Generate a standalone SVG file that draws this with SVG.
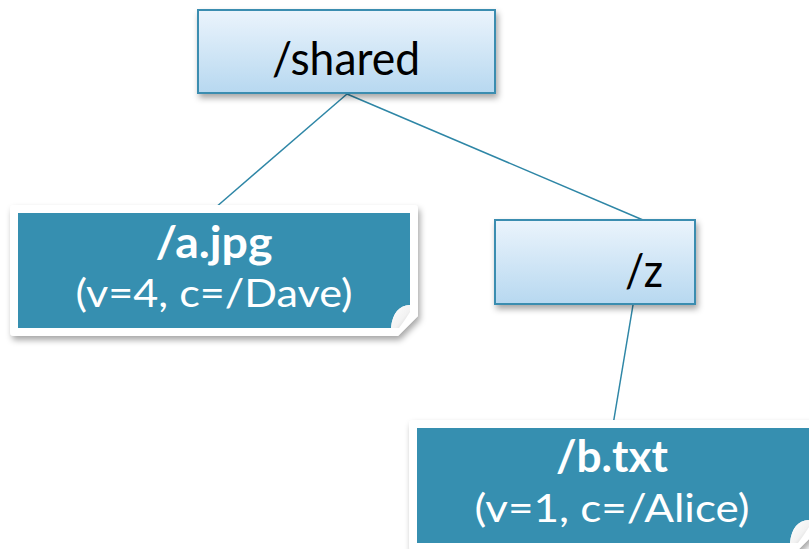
<svg xmlns="http://www.w3.org/2000/svg" width="809" height="549" viewBox="0 0 809 549">
  <style>
    .dir rect { fill: url(#dirFill); stroke: #3b8db0; stroke-width: 2; }
    .dir text { font-family: Lato, "Open Sans", sans-serif; font-size: 46px; fill: #000; text-anchor: middle; }
    .frame { fill: #fff; }
    .leaf { fill: #368fb0; }
    .curl { fill: url(#curlFill); }
    .name { font-family: Lato, "Open Sans", sans-serif; font-weight: bold; font-size: 43px; fill: #fff; text-anchor: middle; }
    .meta { font-family: Lato, "Open Sans", sans-serif; font-size: 39px; fill: #fff; text-anchor: middle; }
    .edges line { stroke: #2e86a6; stroke-width: 1.5; }
  </style>
  <defs>
    <linearGradient id="dirFill" x1="0" y1="0" x2="0" y2="1">
      <stop offset="0" stop-color="#ebf4fc"/>
      <stop offset="1" stop-color="#b7d8f0"/>
    </linearGradient>
    <linearGradient id="curlFill" x1="0" y1="0" x2="1" y2="1">
      <stop offset="0" stop-color="#ffffff"/>
      <stop offset="0.6" stop-color="#f2f2f2"/>
      <stop offset="1" stop-color="#c8c8c8"/>
    </linearGradient>
    <filter id="shadow" x="-10%" y="-10%" width="125%" height="140%">
      <feDropShadow dx="2" dy="4" stdDeviation="3" flood-color="#000" flood-opacity="0.35"/>
    </filter>
  </defs>

  <!-- tree edges -->
  <g class="edges">
    <line x1="347" y1="94" x2="215" y2="208"/>
    <line x1="347" y1="94" x2="643" y2="220"/>
    <line x1="633" y1="305" x2="613" y2="425"/>
  </g>

  <!-- directory: /shared -->
  <g id="shared" class="dir">
    <rect x="198" y="10" width="297" height="83" filter="url(#shadow)"/>
    <text x="346" y="75" textLength="148" lengthAdjust="spacingAndGlyphs">/shared</text>
  </g>

  <!-- directory: /z -->
  <g id="z" class="dir">
    <rect x="495" y="220" width="200" height="84" filter="url(#shadow)"/>
    <text x="644" y="287" textLength="38" lengthAdjust="spacingAndGlyphs">/z</text>
  </g>

  <!-- file: /a.jpg -->
  <g id="a-jpg">
    <path class="frame" filter="url(#shadow)" d="M14,205 H414 Q418,205 418,209 V316 L398,336 H14 Q10,336 10,332 V209 Q10,205 14,205 Z"/>
    <path class="leaf" d="M18,213 H410 V305 Q393,306 391,328 H18 Z"/>
    <path class="curl" d="M410,305 Q393,306 391,328 L399,328 Q405,320 410,312 Z"/>
    <text class="name" x="214" y="258" textLength="117" lengthAdjust="spacingAndGlyphs">/a.jpg</text>
    <text class="meta" x="214" y="307" textLength="277" lengthAdjust="spacingAndGlyphs">(v=4, c=/Dave)</text>
  </g>

  <!-- file: /b.txt -->
  <g id="b-txt">
    <path class="frame" filter="url(#shadow)" d="M413,420 H813 Q817,420 817,424 V531 L797,551 H413 Q409,551 409,547 V424 Q409,420 413,420 Z"/>
    <path class="leaf" d="M417,428 H809 V520 Q792,521 790,543 H417 Z"/>
    <path class="curl" d="M809,520 Q792,521 790,543 L798,543 Q804,535 809,527 Z"/>
    <text class="name" x="612" y="472" textLength="112" lengthAdjust="spacingAndGlyphs">/b.txt</text>
    <text class="meta" x="612" y="522" textLength="275" lengthAdjust="spacingAndGlyphs">(v=1, c=/Alice)</text>
  </g>
</svg>
